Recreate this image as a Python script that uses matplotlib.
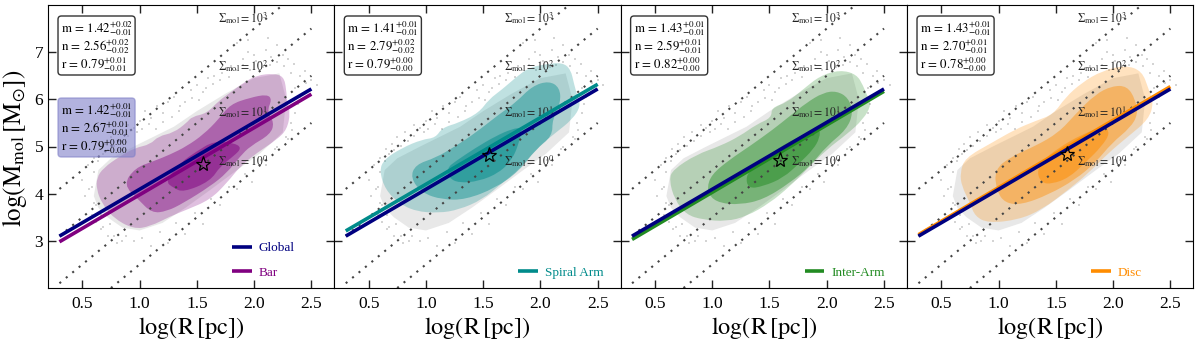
import matplotlib
matplotlib.use('Agg')
import matplotlib.pyplot as plt
from matplotlib.patches import FancyBboxPatch, PathPatch
from matplotlib.path import Path

plt.rcParams['font.family'] = ['Liberation Serif', 'DejaVu Serif']
plt.rcParams['mathtext.fontset'] = 'stix'

# fit lines, value at log R = 0.3 and 2.5
line_x = [0.3, 2.5]
global_y = [3.10, 6.22]
bar_y = [2.98, 6.11]
spiral_y = [3.21, 6.32]
inter_y = [3.03, 6.17]
disc_y = [3.13, 6.27]

# constant surface density lines
sigma_labels = ['10^0', '10^1', '10^2', '10^3']
sigma_y_start = [1.1, 2.1, 3.1, 4.1]
sigma_y_end = [5.5, 6.5, 7.5, 8.5]
sigma_label_y = [4.70, 5.72, 6.70, 7.72]

# star = median of each environment
star_x = [1.55, 1.55, 1.59, 1.60]
star_y = [4.63, 4.83, 4.72, 4.85]

names = ['Bar', 'Spiral Arm', 'Inter-Arm', 'Disc']
colors = ['#800080', '#008b8b', '#228b22', '#ff8c00']
env_y = [bar_y, spiral_y, inter_y, disc_y]

stats = [
    [('1.42', '+0.02', '-0.01'), ('2.56', '+0.02', '-0.02'), ('0.79', '+0.01', '-0.01')],
    [('1.41', '+0.01', '-0.01'), ('2.79', '+0.02', '-0.02'), ('0.79', '+0.00', '-0.00')],
    [('1.43', '+0.01', '-0.01'), ('2.59', '+0.01', '-0.01'), ('0.82', '+0.00', '-0.00')],
    [('1.43', '+0.01', '-0.01'), ('2.70', '+0.01', '-0.01'), ('0.78', '+0.00', '-0.00')],
]
global_stats = [('1.42', '+0.01', '-0.01'), ('2.67', '+0.01', '-0.01'), ('0.79', '+0.00', '-0.00')]

# density contours (log R, log M)
bar_outer_x = [.625, .684, .829, .961, 1.092, 1.165, 1.296, 1.412, 1.456, 1.587, 1.689, 1.791, 1.908, 2.025, 2.170, 2.258, 2.281, 2.287, 2.316, 2.287, 2.200, 2.025, 1.879, 1.762, 1.616, 1.412, 1.267, 1.092, .946, .771, .669, .625]
bar_outer_y = [4.334, 4.547, 4.795, 4.972, 5.043, 5.220, 5.291, 5.504, 5.632, 5.703, 5.965, 6.142, 6.355, 6.511, 6.547, 6.483, 6.213, 5.929, 5.717, 5.362, 5.149, 4.866, 4.582, 4.227, 3.873, 3.660, 3.518, 3.305, 3.249, 3.483, 3.802, 4.085]
bar_mid_x = [.858, .961, 1.121, 1.267, 1.412, 1.558, 1.689, 1.791, 1.966, 2.112, 2.156, 2.112, 2.176, 2.141, 1.966, 1.879, 1.762, 1.616, 1.383, 1.237, 1.106, .990]
bar_mid_y = [4.192, 4.547, 4.688, 4.830, 5.007, 5.256, 5.575, 5.894, 6.036, 6.106, 6.0, 5.752, 5.504, 5.256, 5.007, 4.795, 4.440, 4.156, 3.802, 3.625, 3.589, 3.873]
bar_in_x = [1.223, 1.354, 1.500, 1.646, 1.821, 1.893, 1.821, 1.704, 1.616, 1.383, 1.296]
bar_in_y = [4.263, 4.653, 4.901, 5.114, 5.078, 4.972, 4.795, 4.582, 4.263, 4.029, 4.121]

spiral_outer_x = [.594, .632, .792, .967, 1.084, 1.142, 1.288, 1.463, 1.550, 1.667, 1.783, 1.900, 2.046, 2.192, 2.264, 2.294, 2.323, 2.352, 2.279, 2.133, 1.987, 1.813, 1.667, 1.492, 1.288, 1.113, .909, .763, .646]
spiral_outer_y = [4.476, 4.724, 4.972, 5.149, 5.185, 5.398, 5.504, 5.717, 6.0, 6.213, 6.461, 6.674, 6.745, 6.781, 6.638, 6.32, 6.071, 5.858, 5.575, 5.291, 5.007, 4.511, 4.227, 3.873, 3.660, 3.589, 3.625, 3.8, 4.085]
spiral_mid_x = [.865, .909, 1.084, 1.259, 1.434, 1.638, 1.783, 1.929, 2.075, 2.168, 2.177, 2.104, 2.104, 1.958, 1.813, 1.608, 1.346, 1.142, .967]
spiral_mid_y = [4.334, 4.617, 4.759, 5.007, 5.291, 5.681, 5.929, 6.284, 6.390, 6.249, 5.929, 5.575, 5.220, 4.937, 4.476, 4.121, 3.873, 3.873, 4.014]
spiral_in_x = [1.186, 1.259, 1.434, 1.608, 1.754, 1.842, 1.813, 1.754, 1.638, 1.463, 1.288, 1.200]
spiral_in_y = [4.547, 4.688, 4.972, 5.220, 5.376, 5.398, 5.078, 4.724, 4.440, 4.263, 4.227, 4.334]

inter_outer_x = [.623, .658, .862, 1.066, 1.241, 1.386, 1.518, 1.518, 1.649, 1.795, 1.940, 2.115, 2.261, 2.319, 2.348, 2.392, 2.319, 2.174, 1.999, 1.824, 1.678, 1.503, 1.299, 1.124, .920, .774, .672]
inter_outer_y = [4.298, 4.511, 4.830, 5.007, 5.220, 5.468, 5.610, 5.823, 5.929, 6.213, 6.497, 6.625, 6.532, 6.284, 6.106, 5.894, 5.575, 5.256, 4.937, 4.511, 4.156, 3.802, 3.518, 3.412, 3.447, 3.553, 3.873]
inter_mid_x = [.955, .993, 1.153, 1.328, 1.532, 1.678, 1.824, 1.969, 2.086, 2.188, 2.232, 2.174, 1.999, 1.853, 1.678, 1.445, 1.241, 1.066, .978]
inter_mid_y = [4.121, 4.405, 4.724, 5.007, 5.362, 5.646, 5.929, 6.142, 6.177, 6.036, 5.717, 5.362, 5.007, 4.582, 4.227, 3.873, 3.766, 3.8, 3.943]
inter_in_x = [1.293, 1.357, 1.532, 1.736, 1.940, 1.940, 1.882, 1.765, 1.620, 1.445, 1.314]
inter_in_y = [4.369, 4.546, 4.901, 5.185, 5.398, 5.185, 4.937, 4.653, 4.334, 4.156, 4.106]

disc_outer_x = [.663, .707, .940, 1.144, 1.319, 1.479, 1.581, 1.727, 1.902, 2.106, 2.252, 2.310, 2.354, 2.310, 2.135, 1.960, 1.786, 1.611, 1.377, 1.173, .911, .794, .751, .678]
disc_outer_y = [4.440, 4.759, 5.078, 5.362, 5.539, 5.681, 6.036, 6.355, 6.603, 6.724, 6.603, 6.213, 5.929, 5.575, 5.220, 4.866, 4.440, 4.085, 3.660, 3.447, 3.376, 3.518, 3.8, 4.156]
disc_mid_x = [.963, 1.115, 1.319, 1.523, 1.669, 1.844, 1.990, 2.121, 2.194, 2.217, 2.150, 1.990, 1.844, 1.669, 1.436, 1.202, 1.057, .984]
disc_mid_y = [4.511, 4.795, 5.007, 5.291, 5.681, 6.106, 6.284, 6.284, 6.0, 5.681, 5.398, 5.078, 4.653, 4.298, 3.979, 3.766, 3.8, 4.050]
disc_in_x = [1.334, 1.377, 1.523, 1.727, 1.917, 1.975, 1.902, 1.756, 1.611, 1.465, 1.377]
disc_in_y = [4.440, 4.688, 4.972, 5.256, 5.433, 5.291, 5.007, 4.653, 4.334, 4.206, 4.227]

contours = [
    [(bar_outer_x, bar_outer_y), (bar_mid_x, bar_mid_y), (bar_in_x, bar_in_y)],
    [(spiral_outer_x, spiral_outer_y), (spiral_mid_x, spiral_mid_y), (spiral_in_x, spiral_in_y)],
    [(inter_outer_x, inter_outer_y), (inter_mid_x, inter_mid_y), (inter_in_x, inter_in_y)],
    [(disc_outer_x, disc_outer_y), (disc_mid_x, disc_mid_y), (disc_in_x, disc_in_y)],
]

# grey cloud of all clouds: dense part and stray bins
cloud_x = [.60, .64, .75, .95, 1.10, 1.30, 1.50, 1.75, 2.00, 2.22, 2.28, 2.25, 2.05, 1.85, 1.60, 1.40, 1.20, 1.00, .85, .72, .64]
cloud_y = [3.95, 4.50, 4.75, 5.00, 5.18, 5.42, 5.75, 6.12, 6.45, 6.55, 6.00, 5.30, 4.85, 4.50, 4.05, 3.70, 3.38, 3.22, 3.28, 3.50, 3.70]
stray_x = [.50, .52, .55, .58, .60, .62, .65, .68, .70, .75, .78, .82, .85, .90, .95, 1.0, 1.05, 1.1, 1.15, 1.2, 1.25, 1.3, 1.35, 1.45, 1.5, 1.55, 1.6, 1.65, 1.7, 1.8, 1.9, 1.95, 2.05, 2.1, 2.15, 2.2, 2.25, 2.3, 2.35, 2.4, 2.45, 2.5, 2.55, 2.42, 2.38, 2.32, 2.28, 2.2, 2.1, 1.98, 1.85, 1.7, 1.55, 1.4, 1.25, 1.1, .95, .8, .72, .66, .6, 1.85, 1.95, 2.0, 2.12]
stray_y = [4.30, 3.95, 4.60, 3.55, 4.75, 3.40, 4.95, 3.30, 5.05, 5.20, 3.10, 5.30, 3.00, 5.45, 5.40, 5.55, 5.75, 5.60, 5.85, 5.70, 5.95, 6.05, 5.85, 6.20, 6.30, 6.15, 6.45, 6.50, 6.40, 6.70, 6.85, 7.00, 6.80, 7.05, 6.90, 7.15, 6.95, 6.85, 6.75, 6.50, 6.35, 6.40, 6.30, 6.10, 5.90, 5.50, 5.20, 5.00, 4.60, 4.25, 4.10, 3.75, 3.35, 3.15, 2.95, 2.90, 3.00, 2.95, 3.10, 3.25, 3.80, 7.20, 7.25, 6.95, 7.30]
stray2_x = [.56, .60, .64, .68, .72, .78, .84, .90, .98, 1.02, 1.08, 1.14, 1.20, 1.28, 1.34, 1.40, 1.46, 1.52, 1.58, 1.64, 1.72, 1.78, 1.84, 1.90, 1.96, 2.02, 2.08, 2.14, 2.20, 2.26, 2.32, 2.36, 2.40, 2.44, 2.36, 2.33, .62, .58, .66, .74, .88, 1.02, 1.18, 1.32, 1.48, 1.62, 1.78, 1.92, 2.06, 2.18, 2.30]
stray2_y = [4.10, 4.45, 4.70, 4.85, 4.92, 5.02, 5.12, 5.22, 5.30, 5.38, 5.48, 5.38, 5.52, 5.62, 5.75, 5.95, 6.02, 5.98, 6.25, 6.32, 6.55, 6.48, 6.62, 6.72, 6.62, 6.82, 6.68, 6.72, 6.80, 6.70, 6.55, 6.25, 6.05, 6.60, 5.70, 5.35, 3.75, 4.15, 3.55, 3.35, 3.10, 3.05, 3.18, 3.38, 3.60, 3.88, 4.15, 4.42, 4.72, 4.95, 5.15]

fig = plt.figure(figsize=(12, 3.44), dpi=100)
lefts = [48, 334.3, 620.6, 907]
width = 286.3


def smooth_patch(px, py, color, alpha):
    # closed outline, corners rounded with quadratic curves between edge midpoints
    n = len(px)
    mid = [((px[k] + px[(k + 1) % n]) / 2, (py[k] + py[(k + 1) % n]) / 2) for k in range(n)]
    verts = [mid[-1]]
    codes = [Path.MOVETO]
    for k in range(n):
        verts += [(px[k], py[k]), mid[k]]
        codes += [Path.CURVE3, Path.CURVE3]
    return PathPatch(Path(verts, codes), facecolor=color, edgecolor='none', alpha=alpha, zorder=2)


def stat_box(ax, rows, top_px, face, alpha):
    # rounded box with the three fit values, px measured from the axes corner
    box = FancyBboxPatch((10 / 286, 1 - (top_px + 59) / 283), 77 / 286, 59 / 283,
                         boxstyle='round,pad=0,rounding_size=0.012', transform=ax.transAxes,
                         facecolor=face, edgecolor='#333333' if face == 'white' else face,
                         alpha=alpha, lw=1.0, zorder=8, mutation_aspect=1)
    ax.add_patch(box)
    for label, row, off in zip(['m', 'n', 'r'], rows, [13, 31, 49]):
        txt = r'$\mathrm{%s}\,=\,%s^{%s}_{%s}$' % (label, row[0], row[1], row[2])
        ax.text(13 / 286, 1 - (top_px + off) / 283, txt, transform=ax.transAxes,
                fontsize=9.3, va='center', ha='left', zorder=9)


for i in range(4):
    ax = fig.add_axes([lefts[i] / 1200, (344 - 288) / 344, width / 1200, 283 / 344])

    ax.fill(cloud_x, cloud_y, color='#e8e8e8', lw=0, zorder=1)
    ax.plot(stray_x, stray_y, 's', ms=1.8, mew=0, color='#d4d4d4', zorder=1)
    ax.plot(stray2_x, stray2_y, 's', ms=1.8, mew=0, color='#d4d4d4', zorder=1)

    for (px, py), a in zip(contours[i], [0.25, 0.42, 0.5]):
        ax.add_patch(smooth_patch(px, py, colors[i], a))

    for y0, y1 in zip(sigma_y_start, sigma_y_end):
        ax.plot(line_x, [y0, y1], color='#444444', lw=1.5, ls=(0, (1, 3)), zorder=3)
    for lab, ly in zip(sigma_labels, sigma_label_y):
        ax.text(1.686, ly, r'$\Sigma_{\rm mol}=%s$' % lab, fontsize=8.5, va='center', ha='left', color='#222222', zorder=4)

    # Bar panel has the global entry in its legend too, and the global line on top
    handles = []
    if i == 0:
        h_g, = ax.plot(line_x, global_y, color='#000080', lw=2.6, zorder=6, solid_capstyle='butt', label='Global')
        handles.append(h_g)
    else:
        ax.plot(line_x, global_y, color='#000080', lw=2.6, zorder=6, solid_capstyle='butt')
    h_e, = ax.plot(line_x, env_y[i], color=colors[i], lw=2.6, zorder=5, solid_capstyle='butt', label=names[i])
    handles.append(h_e)

    ax.plot(star_x[i], star_y[i], marker='*', ms=11, mfc='none', mec='black', mew=0.9, zorder=7)

    stat_box(ax, stats[i], 11, 'white', 1.0)
    if i == 0:
        stat_box(ax, global_stats, 93, '#8080c8', 0.6)

    ax.legend(handles=handles, loc='lower left', bbox_to_anchor=(0.643, 0.033), borderaxespad=0, borderpad=0,
              frameon=False, fontsize=9.5, labelcolor='linecolor', handlelength=1.5, handletextpad=0.5, labelspacing=0.92)

    ax.set_xlim(0.2, 2.7)
    ax.set_ylim(2, 8)
    ax.set_xticks([0.5, 1.0, 1.5, 2.0, 2.5])
    ax.set_yticks([3, 4, 5, 6, 7])
    ax.tick_params(direction='in', top=True, right=True, length=6, width=1, labelsize=12.5, color='#222222')
    ax.tick_params(axis='x', pad=6)
    ax.set_xlabel(r'$\log(\mathrm{R\,[pc]})$', fontsize=17.5, labelpad=2)
    if i == 0:
        ax.set_ylabel(r'$\log(\mathrm{M_{mol}\,[M_{\odot}]})$', fontsize=18)
        ax.yaxis.set_label_coords(-0.068, 0.495)
    else:
        ax.tick_params(labelleft=False)

plt.savefig('out.png', dpi=100)
